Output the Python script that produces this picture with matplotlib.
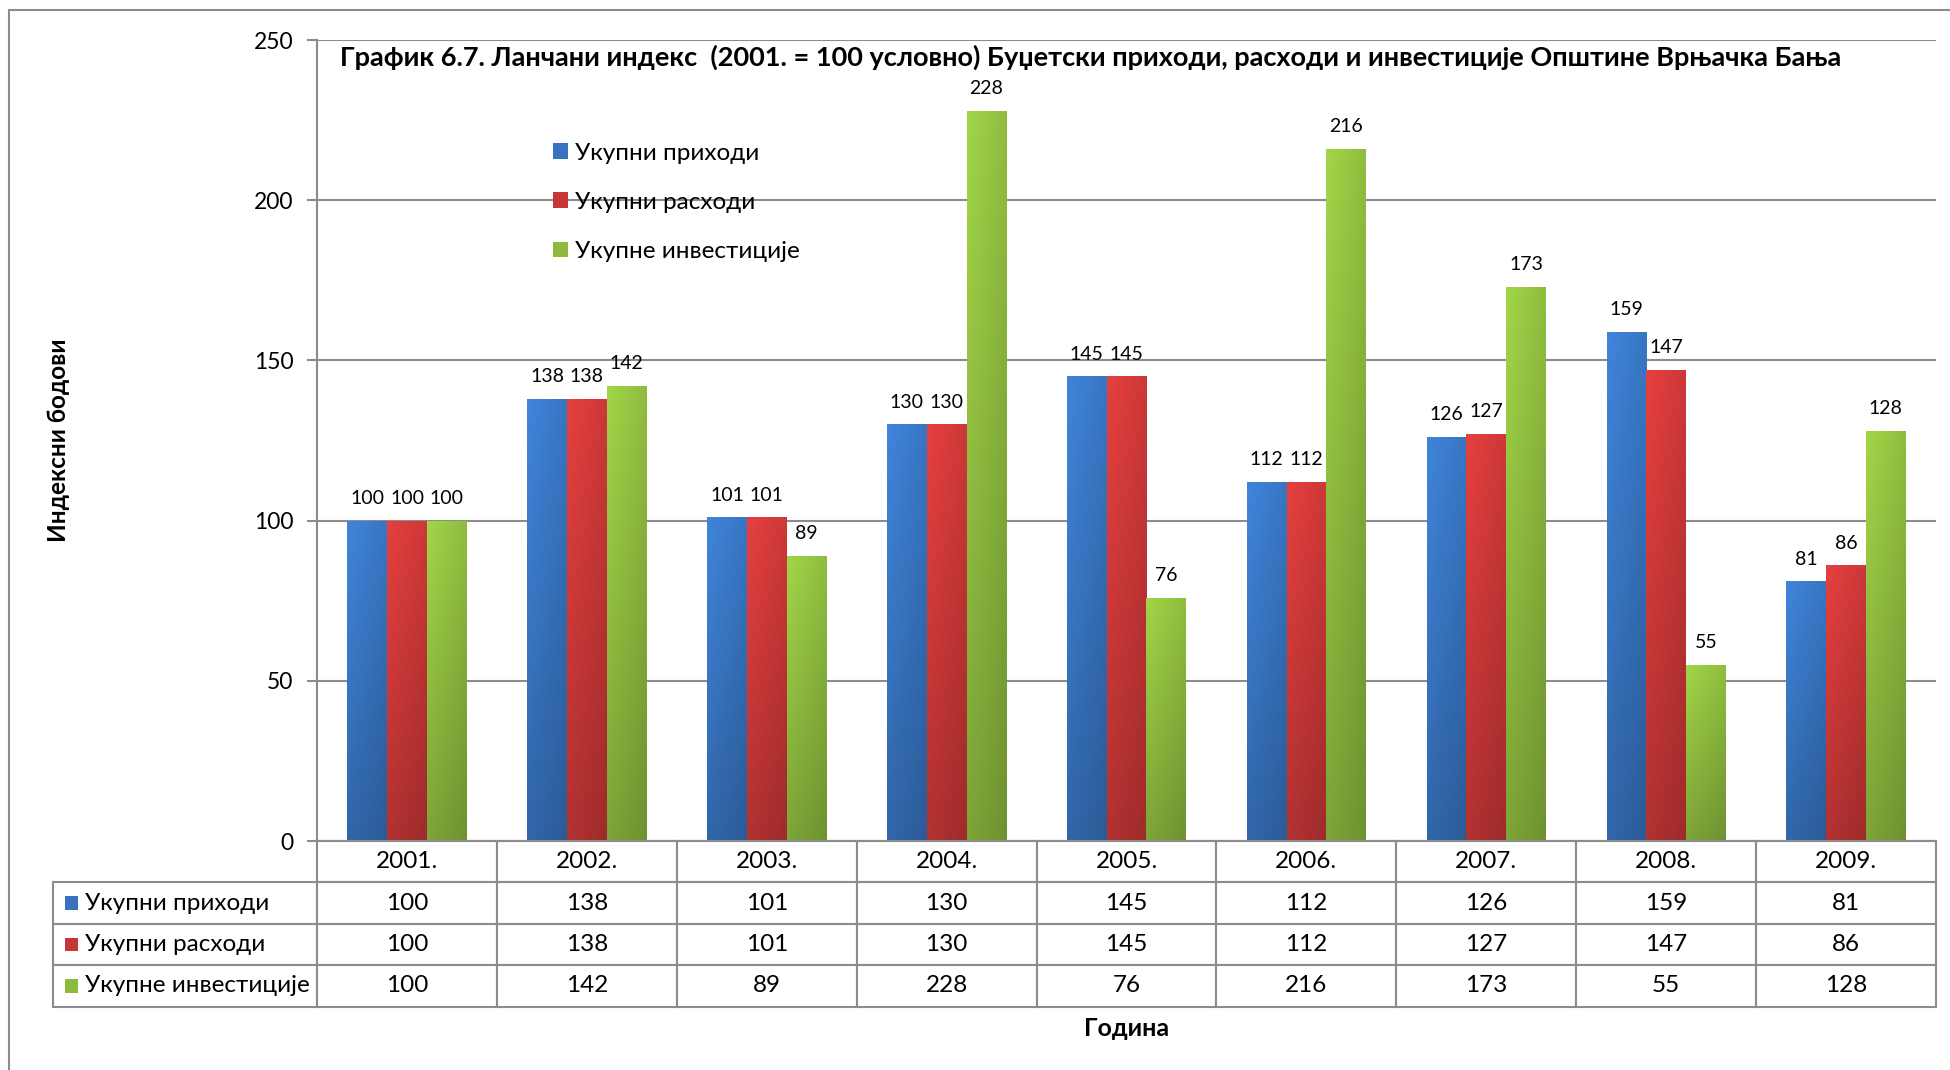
import numpy as np
import matplotlib.pyplot as plt
import matplotlib.colors as mcolors
from matplotlib import font_manager as fm, ft2font
from matplotlib.patches import Rectangle, Patch

# podaci sa grafika
godine = ['2001.', '2002.', '2003.', '2004.', '2005.', '2006.', '2007.', '2008.', '2009.']
prihodi = [100, 138, 101, 130, 145, 112, 126, 159, 81]
rashodi = [100, 138, 101, 130, 145, 112, 127, 147, 86]
investicije = [100, 142, 89, 228, 76, 216, 173, 55, 128]
serije = ['Укупни приходи', 'Укупни расходи', 'Укупне инвестиције']
boje = ['#3773be', '#c83737', '#8cb93e']

naslov = ('График 6.7. Ланчани индекс  (2001. = 100 условно) Буџетски приходи, '
          'расходи и инвестиције Општине Врњачка Бања')

siva = '#8c8c8c'


def font_ok(fam):
    # treba nam i bold i cirilica
    fs = [f for f in fm.fontManager.ttflist if f.name == fam]
    bold = [f for f in fs if str(f.weight) in ('bold', '700', '600', 'semibold', 'demibold')]
    if not fs or not bold:
        return False
    try:
        return all(ord('Љ') in ft2font.FT2Font(f.fname).get_charmap() for f in [fs[0], bold[0]])
    except Exception:
        return False


porodica = next((f for f in ['Lato', 'Open Sans', 'Noto Sans', 'Roboto', 'Liberation Sans']
                 if font_ok(f)), 'DejaVu Sans')
plt.rcParams['font.family'] = [porodica, 'DejaVu Sans']


def senka(boja):
    # blagi prelaz: svetlije gore levo, tamnije dole desno
    c = np.array(mcolors.to_rgb(boja))
    xs = np.linspace(0, 1, 20)
    ys = np.linspace(0, 1, 80)
    f = (0.85 + 0.25 * ys)[:, None] * (1.05 - 0.12 * xs)[None, :]
    return np.clip(c[None, None, :] * f[:, :, None], 0, 1)


fig = plt.figure(figsize=(19.5, 10.7), dpi=100)
ax = fig.add_axes([0.1626, 0.214, 0.8302, 0.7486])

x = np.arange(len(godine))
w = 0.221
podaci = [prihodi, rashodi, investicije]
for k, (vr, boja, ime) in enumerate(zip(podaci, boje, serije)):
    bars = ax.bar(x + (k - 1) * w, vr, width=w, color=boja, zorder=2, label=ime)
    img = senka(boja)
    for b in bars:
        im = ax.imshow(img, extent=[b.get_x(), b.get_x() + b.get_width(), 0, b.get_height()],
                       origin='lower', aspect='auto', interpolation='bilinear', zorder=2.1)
        im.set_clip_path(b)
    ax.bar_label(bars, fmt='%d', padding=10, fontsize=14, zorder=3)

ax.set_xlim(-0.5, 8.5)
ax.set_ylim(0, 250)
ax.set_yticks(np.arange(0, 251, 50))
ax.set_xticks([])
ax.grid(axis='y', color=siva, lw=1.5)
ax.set_axisbelow(True)
ax.tick_params(axis='y', length=7, width=1.5, color=siva, labelsize=16.5, pad=10)
for s in ['top', 'right']:
    ax.spines[s].set_visible(False)
for s in ['left', 'bottom']:
    ax.spines[s].set_color(siva)
    ax.spines[s].set_linewidth(1.5)

ax.set_ylabel('Индексни бодови', fontsize=17.5, fontweight='bold', va='center')
ax.yaxis.set_label_coords(-0.16, 0.5)
ax.set_xlabel('Година', fontsize=18, fontweight='bold', va='center')
ax.xaxis.set_label_coords(0.5, -0.2335)

ax.text(0.0142, 0.9788, naslov, transform=ax.transAxes, ha='left', va='center',
        fontsize=19.5, fontweight='bold')

ruke = [Patch(facecolor=b) for b in boje]
ax.legend(ruke, serije, loc='upper left', bbox_to_anchor=(0.1458, 0.872), frameon=False,
          fontsize=17.5, handlelength=0.62, handleheight=0.62, handletextpad=0.3,
          labelspacing=1.16, borderpad=0, borderaxespad=0)

# tabela ispod grafika, prva kolona su nazivi serija
lab_w = 0.163
tab_h = 0.2066
tab = ax.table(cellText=[[ime] + [str(v) for v in vr] for ime, vr in zip(serije, podaci)],
               colLabels=[''] + godine, colWidths=[lab_w] + [1 / 9] * 9,
               cellLoc='center', bbox=[-lab_w, -tab_h, 1 + lab_w, tab_h])
tab.auto_set_font_size(False)
tab.set_fontsize(17.5)
for (r, c), cell in tab.get_celld().items():
    cell.set_edgecolor(siva)
    cell.set_linewidth(1.5)
    if c == 0:
        if r == 0:
            cell.visible_edges = ''
        else:
            cell.get_text().set_horizontalalignment('left')
            cell.PAD = 0.12

red_h = tab_h / 4
for k, boja in enumerate(boje):
    yc = -(k + 1.5) * red_h
    ax.add_patch(Rectangle((-0.1557, yc - 0.0085), 0.008, 0.017, transform=ax.transAxes,
                           facecolor=boja, clip_on=False, zorder=5))

# okvir oko celog grafika
fig.add_artist(Rectangle((0.0046, -0.1), 1.2, 0.9907 + 0.1, transform=fig.transFigure,
                         fill=False, ec=siva, lw=1.5))

fig.savefig('out.png', dpi=100)
